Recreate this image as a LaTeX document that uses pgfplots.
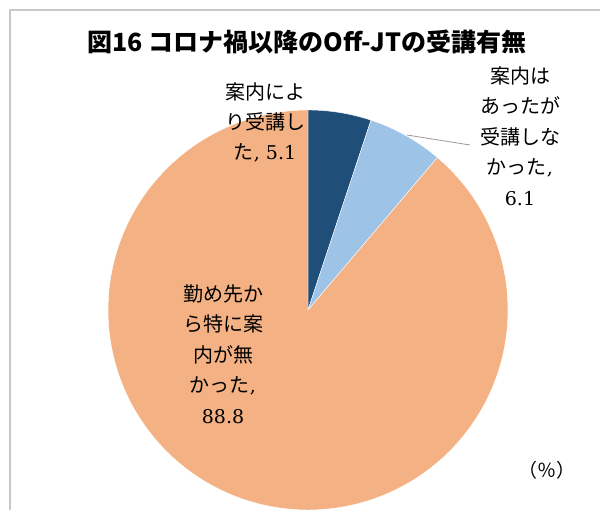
\documentclass[border=0pt]{standalone}
\usepackage{pgfplots}
\usepackage{pgfplotstable}
\pgfplotsset{compat=1.18}
\usepackage{fontspec}
\newfontfamily\jp{Noto Sans CJK JP}
\newfontfamily\num{DejaVu Serif}
\definecolor{cA}{HTML}{1F4E79}
\definecolor{cB}{HTML}{9DC3E6}
\definecolor{cC}{HTML}{F4B183}
\definecolor{framec}{HTML}{C8C8C8}
\pgfplotstableread{
idx value
0 5.1
1 6.1
2 88.8
}\piedata
\begin{document}
\begin{tikzpicture}
\pgfplotstablegetelem{0}{value}\of\piedata \let\va\pgfplotsretval
\pgfplotstablegetelem{1}{value}\of\piedata \let\vb\pgfplotsretval
\pgfplotstablegetelem{2}{value}\of\piedata \let\vc\pgfplotsretval
\pgfmathsetmacro\aA{3.6*\va}
\pgfmathsetmacro\aB{\aA+3.6*\vb}
\pgfmathsetmacro\aC{\aB+3.6*\vc}
\begin{axis}[at={(0,0)}, anchor=south west, scale only axis, width=600bp, height=510bp,
  xmin=0, xmax=600, ymin=0, ymax=510, hide axis, clip=false]
\addplot[fill=cA, draw=white, line width=0.4pt, domain=0:\aA, samples=20, variable=\t]
  ({308+200*sin(\t)},{200+200*cos(\t)}) -- (axis cs:308,200) -- cycle;
\addplot[fill=cB, draw=white, line width=0.4pt, domain=\aA:\aB, samples=20, variable=\t]
  ({308+200*sin(\t)},{200+200*cos(\t)}) -- (axis cs:308,200) -- cycle;
\addplot[fill=cC, draw=white, line width=0.4pt, domain=\aB:\aC, samples=120, variable=\t]
  ({308+200*sin(\t)},{200+200*cos(\t)}) -- (axis cs:308,200) -- cycle;
\draw[framec, line width=2bp] (axis cs:10,0) -- (axis cs:10,500) -- (axis cs:600,500);
\draw[gray!80, line width=0.8pt] (axis cs:407,375) -- (axis cs:470,365);
\node[font=\jp\bfseries\fontsize{25bp}{28bp}\selectfont] at (axis cs:307,468) {図16 コロナ禍以降のOff-JTの受講有無};
\node[font=\jp\fontsize{20bp}{30bp}\selectfont, align=center] at (axis cs:265,388)
  {案内によ\\り受講し\\た{\num\fontsize{19bp}{30bp}\selectfont, 5.1}};
\node[font=\jp\fontsize{20bp}{30.5bp}\selectfont, align=center] at (axis cs:520,374)
  {案内は\\あったが\\受講しな\\かった{\num\fontsize{19bp}{30bp}\selectfont,}\\{\num\fontsize{19bp}{30bp}\selectfont 6.1}};
\node[font=\jp\fontsize{20bp}{30.5bp}\selectfont, align=center] at (axis cs:223,156)
  {勤め先か\\ら特に案\\内が無\\かった{\num\fontsize{19bp}{30bp}\selectfont,}\\{\num\fontsize{19bp}{30bp}\selectfont 88.8}};
\node[font=\jp\fontsize{19bp}{22bp}\selectfont] at (axis cs:547,40) {（％）};
\end{axis}
\pgfresetboundingbox
\path[use as bounding box] (0,0) rectangle (600bp,510bp);
\end{tikzpicture}
\end{document}
